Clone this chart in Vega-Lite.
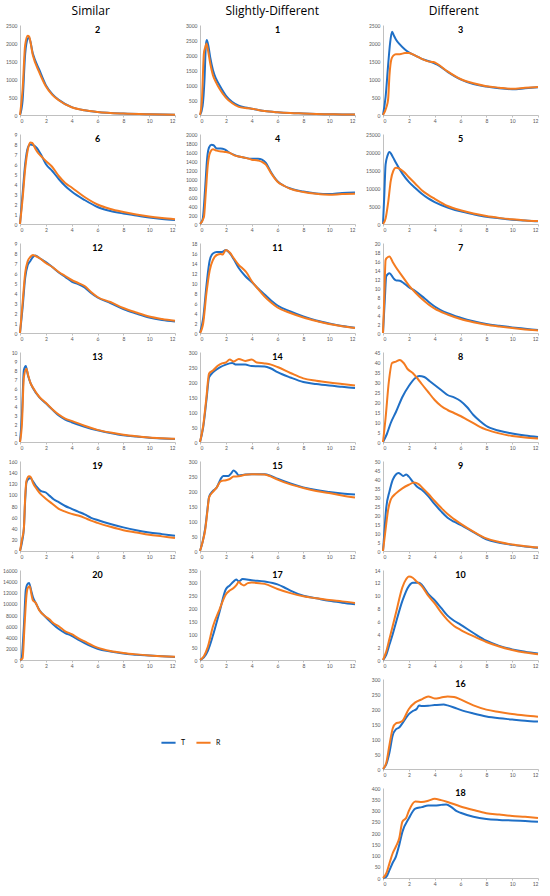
{
  "$schema": "https://vega.github.io/schema/vega-lite/v6.json",
  "padding": {"left": 2, "top": 5, "right": 4, "bottom": 2},
  "datasets": {
    "p2": [
      {"s":"T","t":0,"c":0},{"s":"T","t":0.2,"c":400},{"s":"T","t":0.4,"c":1700},{"s":"T","t":0.6,"c":2120},{"s":"T","t":0.7,"c":2150},{"s":"T","t":1,"c":1700},{"s":"T","t":1.5,"c":1250},{"s":"T","t":2,"c":830},{"s":"T","t":2.5,"c":580},{"s":"T","t":3,"c":420},{"s":"T","t":4,"c":220},{"s":"T","t":5,"c":130},{"s":"T","t":6,"c":85},{"s":"T","t":8,"c":40},{"s":"T","t":10,"c":20},{"s":"T","t":12,"c":10},
      {"s":"R","t":0,"c":0},{"s":"R","t":0.2,"c":700},{"s":"R","t":0.4,"c":1950},{"s":"R","t":0.6,"c":2200},{"s":"R","t":0.7,"c":2180},{"s":"R","t":1,"c":1650},{"s":"R","t":1.5,"c":1180},{"s":"R","t":2,"c":800},{"s":"R","t":2.5,"c":560},{"s":"R","t":3,"c":410},{"s":"R","t":4,"c":215},{"s":"R","t":5,"c":130},{"s":"R","t":6,"c":85},{"s":"R","t":8,"c":40},{"s":"R","t":10,"c":20},{"s":"R","t":12,"c":10}
    ],
    "p6": [
      {"s":"T","t":0,"c":0},{"s":"T","t":0.2,"c":3},{"s":"T","t":0.4,"c":6},{"s":"T","t":0.6,"c":7.6},{"s":"T","t":0.8,"c":7.95},{"s":"T","t":1,"c":7.9},{"s":"T","t":1.3,"c":7.6},{"s":"T","t":1.6,"c":7.0},{"s":"T","t":2,"c":6.0},{"s":"T","t":2.5,"c":5.3},{"s":"T","t":3,"c":4.5},{"s":"T","t":3.5,"c":3.8},{"s":"T","t":4,"c":3.25},{"s":"T","t":5,"c":2.4},{"s":"T","t":6,"c":1.7},{"s":"T","t":7,"c":1.3},{"s":"T","t":8,"c":1.05},{"s":"T","t":9,"c":0.85},{"s":"T","t":10,"c":0.65},{"s":"T","t":11,"c":0.5},{"s":"T","t":12,"c":0.4},
      {"s":"R","t":0,"c":0},{"s":"R","t":0.2,"c":2.5},{"s":"R","t":0.4,"c":5.5},{"s":"R","t":0.6,"c":7.4},{"s":"R","t":0.8,"c":8.15},{"s":"R","t":0.95,"c":8.1},{"s":"R","t":1.2,"c":7.5},{"s":"R","t":1.4,"c":7.1},{"s":"R","t":1.7,"c":6.7},{"s":"R","t":2,"c":6.3},{"s":"R","t":2.5,"c":5.7},{"s":"R","t":3,"c":4.8},{"s":"R","t":3.5,"c":4.1},{"s":"R","t":4,"c":3.65},{"s":"R","t":5,"c":2.7},{"s":"R","t":6,"c":1.95},{"s":"R","t":7,"c":1.5},{"s":"R","t":8,"c":1.2},{"s":"R","t":9,"c":0.95},{"s":"R","t":10,"c":0.75},{"s":"R","t":11,"c":0.6},{"s":"R","t":12,"c":0.48}
    ],
    "p12": [
      {"s":"T","t":0,"c":0},{"s":"T","t":0.2,"c":2.5},{"s":"T","t":0.4,"c":5.5},{"s":"T","t":0.6,"c":6.8},{"s":"T","t":0.8,"c":7.2},{"s":"T","t":1,"c":7.6},{"s":"T","t":1.2,"c":7.75},{"s":"T","t":1.5,"c":7.5},{"s":"T","t":2,"c":7.1},{"s":"T","t":2.5,"c":6.6},{"s":"T","t":3,"c":6.05},{"s":"T","t":3.5,"c":5.6},{"s":"T","t":4,"c":5.15},{"s":"T","t":4.5,"c":4.9},{"s":"T","t":5,"c":4.55},{"s":"T","t":5.5,"c":4.0},{"s":"T","t":6,"c":3.55},{"s":"T","t":7,"c":3.0},{"s":"T","t":8,"c":2.4},{"s":"T","t":9,"c":1.95},{"s":"T","t":10,"c":1.55},{"s":"T","t":11,"c":1.3},{"s":"T","t":12,"c":1.15},
      {"s":"R","t":0,"c":0},{"s":"R","t":0.2,"c":3},{"s":"R","t":0.4,"c":6},{"s":"R","t":0.6,"c":7.2},{"s":"R","t":0.8,"c":7.6},{"s":"R","t":1,"c":7.8},{"s":"R","t":1.2,"c":7.7},{"s":"R","t":1.5,"c":7.5},{"s":"R","t":2,"c":7.0},{"s":"R","t":2.5,"c":6.6},{"s":"R","t":3,"c":6.1},{"s":"R","t":3.5,"c":5.7},{"s":"R","t":4,"c":5.3},{"s":"R","t":4.5,"c":5.0},{"s":"R","t":5,"c":4.7},{"s":"R","t":5.5,"c":4.1},{"s":"R","t":6,"c":3.6},{"s":"R","t":7,"c":3.1},{"s":"R","t":8,"c":2.5},{"s":"R","t":9,"c":2.05},{"s":"R","t":10,"c":1.65},{"s":"R","t":11,"c":1.4},{"s":"R","t":12,"c":1.22}
    ],
    "p13": [
      {"s":"T","t":0,"c":0},{"s":"T","t":0.15,"c":3},{"s":"T","t":0.3,"c":8.0},{"s":"T","t":0.45,"c":8.45},{"s":"T","t":0.6,"c":7.5},{"s":"T","t":0.8,"c":6.6},{"s":"T","t":1,"c":6.0},{"s":"T","t":1.5,"c":4.95},{"s":"T","t":2,"c":4.3},{"s":"T","t":2.5,"c":3.6},{"s":"T","t":3,"c":2.95},{"s":"T","t":3.5,"c":2.5},{"s":"T","t":4,"c":2.2},{"s":"T","t":5,"c":1.7},{"s":"T","t":6,"c":1.3},{"s":"T","t":7,"c":1.0},{"s":"T","t":8,"c":0.75},{"s":"T","t":9,"c":0.6},{"s":"T","t":10,"c":0.47},{"s":"T","t":11,"c":0.4},{"s":"T","t":12,"c":0.33},
      {"s":"R","t":0,"c":0},{"s":"R","t":0.15,"c":2},{"s":"R","t":0.3,"c":7.2},{"s":"R","t":0.5,"c":8.15},{"s":"R","t":0.65,"c":7.3},{"s":"R","t":0.8,"c":6.6},{"s":"R","t":1,"c":6.05},{"s":"R","t":1.5,"c":5.0},{"s":"R","t":2,"c":4.35},{"s":"R","t":2.5,"c":3.65},{"s":"R","t":3,"c":3.05},{"s":"R","t":3.5,"c":2.6},{"s":"R","t":4,"c":2.35},{"s":"R","t":5,"c":1.8},{"s":"R","t":6,"c":1.35},{"s":"R","t":7,"c":1.05},{"s":"R","t":8,"c":0.8},{"s":"R","t":9,"c":0.63},{"s":"R","t":10,"c":0.5},{"s":"R","t":11,"c":0.42},{"s":"R","t":12,"c":0.36}
    ],
    "p19": [
      {"s":"T","t":0,"c":0},{"s":"T","t":0.15,"c":15},{"s":"T","t":0.3,"c":40},{"s":"T","t":0.4,"c":90},{"s":"T","t":0.5,"c":122},{"s":"T","t":0.65,"c":128},{"s":"T","t":0.8,"c":130},{"s":"T","t":1,"c":124},{"s":"T","t":1.3,"c":114},{"s":"T","t":1.6,"c":107},{"s":"T","t":2,"c":104},{"s":"T","t":2.3,"c":98},{"s":"T","t":2.6,"c":92},{"s":"T","t":3,"c":87},{"s":"T","t":3.5,"c":80},{"s":"T","t":4,"c":75},{"s":"T","t":4.5,"c":70},{"s":"T","t":5,"c":65},{"s":"T","t":5.5,"c":59},{"s":"T","t":6,"c":55},{"s":"T","t":7,"c":48},{"s":"T","t":8,"c":42},{"s":"T","t":9,"c":37},{"s":"T","t":10,"c":33},{"s":"T","t":11,"c":30},{"s":"T","t":12,"c":27},
      {"s":"R","t":0,"c":0},{"s":"R","t":0.15,"c":20},{"s":"R","t":0.3,"c":40},{"s":"R","t":0.4,"c":95},{"s":"R","t":0.5,"c":125},{"s":"R","t":0.7,"c":133},{"s":"R","t":0.85,"c":131},{"s":"R","t":1,"c":121},{"s":"R","t":1.3,"c":110},{"s":"R","t":1.6,"c":101},{"s":"R","t":2,"c":93},{"s":"R","t":2.5,"c":84},{"s":"R","t":3,"c":75},{"s":"R","t":3.5,"c":70},{"s":"R","t":4,"c":66},{"s":"R","t":4.5,"c":63},{"s":"R","t":5,"c":59},{"s":"R","t":5.5,"c":54},{"s":"R","t":6,"c":50},{"s":"R","t":7,"c":43},{"s":"R","t":8,"c":37},{"s":"R","t":9,"c":33},{"s":"R","t":10,"c":29},{"s":"R","t":11,"c":26},{"s":"R","t":12,"c":23}
    ],
    "p20": [
      {"s":"T","t":0,"c":0},{"s":"T","t":0.1,"c":100},{"s":"T","t":0.3,"c":6000},{"s":"T","t":0.45,"c":12500},{"s":"T","t":0.55,"c":13400},{"s":"T","t":0.7,"c":13700},{"s":"T","t":0.85,"c":12500},{"s":"T","t":1,"c":11200},{"s":"T","t":1.25,"c":10000},{"s":"T","t":1.5,"c":8900},{"s":"T","t":2,"c":7600},{"s":"T","t":2.5,"c":6500},{"s":"T","t":3,"c":5500},{"s":"T","t":3.5,"c":4800},{"s":"T","t":4,"c":4300},{"s":"T","t":4.5,"c":3600},{"s":"T","t":5,"c":3000},{"s":"T","t":6,"c":2000},{"s":"T","t":7,"c":1500},{"s":"T","t":8,"c":1150},{"s":"T","t":9,"c":950},{"s":"T","t":10,"c":780},{"s":"T","t":11,"c":650},{"s":"T","t":12,"c":550},
      {"s":"R","t":0,"c":0},{"s":"R","t":0.1,"c":100},{"s":"R","t":0.2,"c":300},{"s":"R","t":0.35,"c":6000},{"s":"R","t":0.5,"c":11500},{"s":"R","t":0.6,"c":12800},{"s":"R","t":0.75,"c":13100},{"s":"R","t":0.9,"c":11500},{"s":"R","t":1,"c":10600},{"s":"R","t":1.2,"c":10200},{"s":"R","t":1.5,"c":8800},{"s":"R","t":2,"c":7700},{"s":"R","t":2.3,"c":7200},{"s":"R","t":2.5,"c":6700},{"s":"R","t":3,"c":6000},{"s":"R","t":3.5,"c":5100},{"s":"R","t":4,"c":4600},{"s":"R","t":4.5,"c":3900},{"s":"R","t":5,"c":3300},{"s":"R","t":6,"c":2200},{"s":"R","t":7,"c":1600},{"s":"R","t":8,"c":1250},{"s":"R","t":9,"c":1000},{"s":"R","t":10,"c":800},{"s":"R","t":11,"c":650},{"s":"R","t":12,"c":570}
    ],
    "p1": [
      {"s":"T","t":0,"c":0},{"s":"T","t":0.2,"c":300},{"s":"T","t":0.35,"c":1200},{"s":"T","t":0.45,"c":2300},{"s":"T","t":0.52,"c":2500},{"s":"T","t":0.65,"c":2300},{"s":"T","t":0.8,"c":1900},{"s":"T","t":1,"c":1500},{"s":"T","t":1.25,"c":1200},{"s":"T","t":1.5,"c":1000},{"s":"T","t":2,"c":650},{"s":"T","t":2.5,"c":430},{"s":"T","t":3,"c":310},{"s":"T","t":3.5,"c":250},{"s":"T","t":4,"c":210},{"s":"T","t":5,"c":130},{"s":"T","t":6,"c":90},{"s":"T","t":7,"c":65},{"s":"T","t":8,"c":50},{"s":"T","t":9,"c":35},{"s":"T","t":10,"c":25},{"s":"T","t":11,"c":18},{"s":"T","t":12,"c":15},
      {"s":"R","t":0,"c":0},{"s":"R","t":0.15,"c":500},{"s":"R","t":0.3,"c":2050},{"s":"R","t":0.4,"c":2250},{"s":"R","t":0.5,"c":2380},{"s":"R","t":0.6,"c":2200},{"s":"R","t":0.8,"c":1700},{"s":"R","t":1,"c":1330},{"s":"R","t":1.25,"c":1080},{"s":"R","t":1.5,"c":880},{"s":"R","t":2,"c":580},{"s":"R","t":2.5,"c":390},{"s":"R","t":3,"c":270},{"s":"R","t":3.5,"c":235},{"s":"R","t":4,"c":210},{"s":"R","t":5,"c":130},{"s":"R","t":6,"c":90},{"s":"R","t":7,"c":65},{"s":"R","t":8,"c":50},{"s":"R","t":9,"c":35},{"s":"R","t":10,"c":25},{"s":"R","t":11,"c":18},{"s":"R","t":12,"c":15}
    ],
    "p4": [
      {"s":"T","t":0,"c":0},{"s":"T","t":0.2,"c":100},{"s":"T","t":0.4,"c":800},{"s":"T","t":0.55,"c":1450},{"s":"T","t":0.7,"c":1700},{"s":"T","t":0.9,"c":1760},{"s":"T","t":1.05,"c":1750},{"s":"T","t":1.3,"c":1680},{"s":"T","t":1.6,"c":1680},{"s":"T","t":1.9,"c":1660},{"s":"T","t":2.2,"c":1600},{"s":"T","t":2.6,"c":1540},{"s":"T","t":3,"c":1500},{"s":"T","t":3.5,"c":1470},{"s":"T","t":4,"c":1450},{"s":"T","t":4.5,"c":1450},{"s":"T","t":4.8,"c":1430},{"s":"T","t":5.1,"c":1360},{"s":"T","t":5.5,"c":1150},{"s":"T","t":6,"c":950},{"s":"T","t":6.5,"c":850},{"s":"T","t":7,"c":790},{"s":"T","t":8,"c":720},{"s":"T","t":9,"c":680},{"s":"T","t":10,"c":665},{"s":"T","t":11,"c":690},{"s":"T","t":12,"c":700},
      {"s":"R","t":0,"c":0},{"s":"R","t":0.3,"c":150},{"s":"R","t":0.45,"c":700},{"s":"R","t":0.6,"c":1300},{"s":"R","t":0.8,"c":1600},{"s":"R","t":1,"c":1660},{"s":"R","t":1.3,"c":1630},{"s":"R","t":1.7,"c":1610},{"s":"R","t":2,"c":1600},{"s":"R","t":2.3,"c":1580},{"s":"R","t":2.7,"c":1520},{"s":"R","t":3,"c":1500},{"s":"R","t":3.5,"c":1470},{"s":"R","t":4,"c":1430},{"s":"R","t":4.5,"c":1410},{"s":"R","t":4.8,"c":1380},{"s":"R","t":5.1,"c":1320},{"s":"R","t":5.5,"c":1130},{"s":"R","t":6,"c":940},{"s":"R","t":6.5,"c":850},{"s":"R","t":7,"c":780},{"s":"R","t":8,"c":710},{"s":"R","t":9,"c":670},{"s":"R","t":10,"c":650},{"s":"R","t":11,"c":665},{"s":"R","t":12,"c":670}
    ],
    "p11": [
      {"s":"T","t":0,"c":0},{"s":"T","t":0.25,"c":3},{"s":"T","t":0.5,"c":9.5},{"s":"T","t":0.75,"c":14.5},{"s":"T","t":1,"c":15.9},{"s":"T","t":1.3,"c":16.2},{"s":"T","t":1.7,"c":16.2},{"s":"T","t":2,"c":16.6},{"s":"T","t":2.3,"c":16.0},{"s":"T","t":2.6,"c":14.8},{"s":"T","t":3,"c":13.0},{"s":"T","t":3.5,"c":11.4},{"s":"T","t":4,"c":10.2},{"s":"T","t":4.5,"c":8.9},{"s":"T","t":5,"c":7.7},{"s":"T","t":5.5,"c":6.5},{"s":"T","t":6,"c":5.5},{"s":"T","t":7,"c":4.3},{"s":"T","t":8,"c":3.3},{"s":"T","t":9,"c":2.5},{"s":"T","t":10,"c":1.9},{"s":"T","t":11,"c":1.4},{"s":"T","t":12,"c":1.05},
      {"s":"R","t":0,"c":0},{"s":"R","t":0.25,"c":2},{"s":"R","t":0.5,"c":8},{"s":"R","t":0.75,"c":12.5},{"s":"R","t":1,"c":14.6},{"s":"R","t":1.3,"c":15.6},{"s":"R","t":1.6,"c":15.8},{"s":"R","t":1.75,"c":15.7},{"s":"R","t":2,"c":16.6},{"s":"R","t":2.3,"c":16.1},{"s":"R","t":2.6,"c":15.0},{"s":"R","t":3,"c":13.6},{"s":"R","t":3.3,"c":12.9},{"s":"R","t":3.6,"c":12.1},{"s":"R","t":4,"c":10.4},{"s":"R","t":4.5,"c":8.8},{"s":"R","t":5,"c":7.3},{"s":"R","t":5.5,"c":6.1},{"s":"R","t":6,"c":5.1},{"s":"R","t":7,"c":4.0},{"s":"R","t":8,"c":3.1},{"s":"R","t":9,"c":2.4},{"s":"R","t":10,"c":1.8},{"s":"R","t":11,"c":1.35},{"s":"R","t":12,"c":1.0}
    ],
    "p14": [
      {"s":"T","t":0,"c":0},{"s":"T","t":0.25,"c":50},{"s":"T","t":0.5,"c":140},{"s":"T","t":0.7,"c":215},{"s":"T","t":1,"c":232},{"s":"T","t":1.5,"c":248},{"s":"T","t":2,"c":258},{"s":"T","t":2.5,"c":263},{"s":"T","t":2.8,"c":258},{"s":"T","t":3.5,"c":258},{"s":"T","t":4,"c":253},{"s":"T","t":5,"c":252},{"s":"T","t":5.5,"c":245},{"s":"T","t":6,"c":233},{"s":"T","t":7,"c":215},{"s":"T","t":8,"c":200},{"s":"T","t":9,"c":193},{"s":"T","t":10,"c":188},{"s":"T","t":11,"c":184},{"s":"T","t":12,"c":180},
      {"s":"R","t":0,"c":0},{"s":"R","t":0.25,"c":55},{"s":"R","t":0.5,"c":150},{"s":"R","t":0.7,"c":228},{"s":"R","t":1,"c":238},{"s":"R","t":1.4,"c":255},{"s":"R","t":1.7,"c":262},{"s":"R","t":2,"c":265},{"s":"R","t":2.3,"c":275},{"s":"R","t":2.6,"c":268},{"s":"R","t":3,"c":277},{"s":"R","t":3.5,"c":270},{"s":"R","t":4,"c":275},{"s":"R","t":4.4,"c":265},{"s":"R","t":5,"c":262},{"s":"R","t":5.5,"c":258},{"s":"R","t":6,"c":250},{"s":"R","t":7,"c":230},{"s":"R","t":8,"c":212},{"s":"R","t":9,"c":204},{"s":"R","t":10,"c":198},{"s":"R","t":11,"c":193},{"s":"R","t":12,"c":188}
    ],
    "p15": [
      {"s":"T","t":0,"c":0},{"s":"T","t":0.2,"c":30},{"s":"T","t":0.4,"c":75},{"s":"T","t":0.58,"c":140},{"s":"T","t":0.7,"c":180},{"s":"T","t":1,"c":200},{"s":"T","t":1.3,"c":212},{"s":"T","t":1.6,"c":240},{"s":"T","t":1.8,"c":250},{"s":"T","t":2.2,"c":250},{"s":"T","t":2.4,"c":258},{"s":"T","t":2.6,"c":268},{"s":"T","t":2.8,"c":262},{"s":"T","t":3,"c":252},{"s":"T","t":3.5,"c":255},{"s":"T","t":4,"c":256},{"s":"T","t":5,"c":256},{"s":"T","t":5.5,"c":250},{"s":"T","t":6,"c":241},{"s":"T","t":7,"c":225},{"s":"T","t":8,"c":212},{"s":"T","t":9,"c":203},{"s":"T","t":10,"c":197},{"s":"T","t":11,"c":192},{"s":"T","t":12,"c":188},
      {"s":"R","t":0,"c":0},{"s":"R","t":0.2,"c":30},{"s":"R","t":0.4,"c":70},{"s":"R","t":0.58,"c":135},{"s":"R","t":0.7,"c":178},{"s":"R","t":1,"c":197},{"s":"R","t":1.3,"c":212},{"s":"R","t":1.6,"c":232},{"s":"R","t":2,"c":236},{"s":"R","t":2.3,"c":240},{"s":"R","t":2.6,"c":248},{"s":"R","t":3,"c":249},{"s":"R","t":3.5,"c":254},{"s":"R","t":4,"c":256},{"s":"R","t":5,"c":255},{"s":"R","t":5.5,"c":248},{"s":"R","t":6,"c":238},{"s":"R","t":7,"c":222},{"s":"R","t":8,"c":210},{"s":"R","t":9,"c":200},{"s":"R","t":10,"c":193},{"s":"R","t":11,"c":185},{"s":"R","t":12,"c":178}
    ],
    "p17": [
      {"s":"T","t":0,"c":0},{"s":"T","t":0.3,"c":10},{"s":"T","t":0.6,"c":35},{"s":"T","t":1,"c":95},{"s":"T","t":1.5,"c":185},{"s":"T","t":2,"c":275},{"s":"T","t":2.3,"c":290},{"s":"T","t":2.6,"c":305},{"s":"T","t":2.8,"c":313},{"s":"T","t":3,"c":306},{"s":"T","t":3.3,"c":315},{"s":"T","t":4,"c":310},{"s":"T","t":5,"c":305},{"s":"T","t":6,"c":294},{"s":"T","t":6.5,"c":283},{"s":"T","t":7,"c":270},{"s":"T","t":8,"c":250},{"s":"T","t":9,"c":240},{"s":"T","t":10,"c":230},{"s":"T","t":11,"c":223},{"s":"T","t":12,"c":217},
      {"s":"R","t":0,"c":0},{"s":"R","t":0.3,"c":15},{"s":"R","t":0.6,"c":50},{"s":"R","t":1,"c":130},{"s":"R","t":1.5,"c":195},{"s":"R","t":2,"c":255},{"s":"R","t":2.3,"c":270},{"s":"R","t":2.6,"c":280},{"s":"R","t":2.8,"c":290},{"s":"R","t":3,"c":303},{"s":"R","t":3.2,"c":295},{"s":"R","t":3.4,"c":290},{"s":"R","t":3.7,"c":299},{"s":"R","t":4,"c":301},{"s":"R","t":5,"c":296},{"s":"R","t":6,"c":276},{"s":"R","t":7,"c":260},{"s":"R","t":8,"c":248},{"s":"R","t":9,"c":240},{"s":"R","t":10,"c":233},{"s":"R","t":11,"c":228},{"s":"R","t":12,"c":222}
    ],
    "p3": [
      {"s":"T","t":0,"c":0},{"s":"T","t":0.2,"c":500},{"s":"T","t":0.4,"c":1400},{"s":"T","t":0.55,"c":2000},{"s":"T","t":0.7,"c":2310},{"s":"T","t":0.85,"c":2200},{"s":"T","t":1,"c":2100},{"s":"T","t":1.3,"c":1960},{"s":"T","t":1.7,"c":1820},{"s":"T","t":2,"c":1740},{"s":"T","t":2.5,"c":1650},{"s":"T","t":3,"c":1560},{"s":"T","t":3.5,"c":1500},{"s":"T","t":3.9,"c":1450},{"s":"T","t":4.2,"c":1400},{"s":"T","t":5,"c":1200},{"s":"T","t":6,"c":990},{"s":"T","t":7,"c":860},{"s":"T","t":8,"c":790},{"s":"T","t":9,"c":740},{"s":"T","t":10,"c":715},{"s":"T","t":11,"c":740},{"s":"T","t":12,"c":770},
      {"s":"R","t":0,"c":0},{"s":"R","t":0.25,"c":200},{"s":"R","t":0.4,"c":450},{"s":"R","t":0.5,"c":1100},{"s":"R","t":0.65,"c":1550},{"s":"R","t":0.8,"c":1650},{"s":"R","t":1,"c":1690},{"s":"R","t":1.3,"c":1690},{"s":"R","t":1.7,"c":1720},{"s":"R","t":2,"c":1720},{"s":"R","t":2.5,"c":1650},{"s":"R","t":3,"c":1560},{"s":"R","t":3.5,"c":1490},{"s":"R","t":3.9,"c":1470},{"s":"R","t":4.2,"c":1420},{"s":"R","t":5,"c":1210},{"s":"R","t":6,"c":1000},{"s":"R","t":7,"c":880},{"s":"R","t":8,"c":800},{"s":"R","t":9,"c":760},{"s":"R","t":10,"c":730},{"s":"R","t":11,"c":755},{"s":"R","t":12,"c":775}
    ],
    "p5": [
      {"s":"T","t":0,"c":0},{"s":"T","t":0.1,"c":8000},{"s":"T","t":0.2,"c":16500},{"s":"T","t":0.35,"c":19000},{"s":"T","t":0.5,"c":20000},{"s":"T","t":0.75,"c":18700},{"s":"T","t":1,"c":17000},{"s":"T","t":1.5,"c":14000},{"s":"T","t":2,"c":11700},{"s":"T","t":2.5,"c":10000},{"s":"T","t":3,"c":8400},{"s":"T","t":3.5,"c":7100},{"s":"T","t":4,"c":6100},{"s":"T","t":5,"c":4600},{"s":"T","t":6,"c":3500},{"s":"T","t":7,"c":2700},{"s":"T","t":8,"c":2000},{"s":"T","t":9,"c":1600},{"s":"T","t":10,"c":1200},{"s":"T","t":11,"c":950},{"s":"T","t":12,"c":750},
      {"s":"R","t":0,"c":0},{"s":"R","t":0.2,"c":1500},{"s":"R","t":0.4,"c":6000},{"s":"R","t":0.6,"c":12000},{"s":"R","t":0.8,"c":14800},{"s":"R","t":1,"c":15600},{"s":"R","t":1.3,"c":15300},{"s":"R","t":1.6,"c":14500},{"s":"R","t":2,"c":13000},{"s":"R","t":2.5,"c":11200},{"s":"R","t":3,"c":9400},{"s":"R","t":3.5,"c":8100},{"s":"R","t":4,"c":7000},{"s":"R","t":5,"c":5000},{"s":"R","t":6,"c":3800},{"s":"R","t":7,"c":2900},{"s":"R","t":8,"c":2200},{"s":"R","t":9,"c":1700},{"s":"R","t":10,"c":1300},{"s":"R","t":11,"c":1000},{"s":"R","t":12,"c":800}
    ],
    "p7": [
      {"s":"T","t":0,"c":0},{"s":"T","t":0.15,"c":8},{"s":"T","t":0.25,"c":12.6},{"s":"T","t":0.5,"c":13.3},{"s":"T","t":0.8,"c":12.2},{"s":"T","t":1,"c":11.7},{"s":"T","t":1.3,"c":11.6},{"s":"T","t":1.6,"c":11.1},{"s":"T","t":2,"c":10.2},{"s":"T","t":2.5,"c":9.3},{"s":"T","t":3,"c":8.2},{"s":"T","t":3.5,"c":7.0},{"s":"T","t":4,"c":5.9},{"s":"T","t":5,"c":4.4},{"s":"T","t":6,"c":3.4},{"s":"T","t":7,"c":2.6},{"s":"T","t":8,"c":2.0},{"s":"T","t":9,"c":1.6},{"s":"T","t":10,"c":1.25},{"s":"T","t":11,"c":0.95},{"s":"T","t":12,"c":0.65},
      {"s":"R","t":0,"c":0},{"s":"R","t":0.1,"c":8},{"s":"R","t":0.2,"c":16.2},{"s":"R","t":0.3,"c":16.7},{"s":"R","t":0.5,"c":17.0},{"s":"R","t":0.75,"c":15.8},{"s":"R","t":1,"c":14.6},{"s":"R","t":1.5,"c":12.6},{"s":"R","t":2,"c":10.6},{"s":"R","t":2.5,"c":9.0},{"s":"R","t":3,"c":7.6},{"s":"R","t":3.5,"c":6.4},{"s":"R","t":4,"c":5.4},{"s":"R","t":5,"c":4.1},{"s":"R","t":6,"c":3.1},{"s":"R","t":7,"c":2.4},{"s":"R","t":8,"c":1.85},{"s":"R","t":9,"c":1.45},{"s":"R","t":10,"c":1.1},{"s":"R","t":11,"c":0.8},{"s":"R","t":12,"c":0.55}
    ],
    "p8": [
      {"s":"T","t":0,"c":0},{"s":"T","t":0.3,"c":4},{"s":"T","t":0.6,"c":9.5},{"s":"T","t":1,"c":15},{"s":"T","t":1.5,"c":22.5},{"s":"T","t":2,"c":28},{"s":"T","t":2.5,"c":32},{"s":"T","t":2.8,"c":33},{"s":"T","t":3.2,"c":32.5},{"s":"T","t":3.6,"c":30.5},{"s":"T","t":4,"c":28.5},{"s":"T","t":4.5,"c":26},{"s":"T","t":5,"c":23.5},{"s":"T","t":5.5,"c":22.3},{"s":"T","t":6,"c":20.5},{"s":"T","t":6.5,"c":17.5},{"s":"T","t":7,"c":13.5},{"s":"T","t":7.5,"c":10.5},{"s":"T","t":8,"c":8},{"s":"T","t":9,"c":5.6},{"s":"T","t":10,"c":4.3},{"s":"T","t":11,"c":3.3},{"s":"T","t":12,"c":2.5},
      {"s":"R","t":0,"c":0},{"s":"R","t":0.2,"c":12},{"s":"R","t":0.45,"c":30},{"s":"R","t":0.7,"c":39.5},{"s":"R","t":1,"c":40.2},{"s":"R","t":1.3,"c":41},{"s":"R","t":1.6,"c":39.5},{"s":"R","t":1.9,"c":36.5},{"s":"R","t":2.3,"c":34.5},{"s":"R","t":2.7,"c":31.5},{"s":"R","t":3,"c":29},{"s":"R","t":3.5,"c":25},{"s":"R","t":4,"c":21},{"s":"R","t":4.5,"c":18},{"s":"R","t":5,"c":16},{"s":"R","t":5.5,"c":14.5},{"s":"R","t":6,"c":13},{"s":"R","t":6.5,"c":11.2},{"s":"R","t":7,"c":9.4},{"s":"R","t":7.5,"c":7.6},{"s":"R","t":8,"c":6.2},{"s":"R","t":9,"c":4.3},{"s":"R","t":10,"c":3.0},{"s":"R","t":11,"c":2.3},{"s":"R","t":12,"c":1.8}
    ],
    "p9": [
      {"s":"T","t":0,"c":0},{"s":"T","t":0.1,"c":10},{"s":"T","t":0.25,"c":24},{"s":"T","t":0.5,"c":33},{"s":"T","t":0.75,"c":39.5},{"s":"T","t":1,"c":42.5},{"s":"T","t":1.2,"c":43.3},{"s":"T","t":1.4,"c":42.5},{"s":"T","t":1.55,"c":41.7},{"s":"T","t":1.8,"c":42.5},{"s":"T","t":2,"c":41.3},{"s":"T","t":2.3,"c":38.5},{"s":"T","t":2.6,"c":36},{"s":"T","t":3,"c":34},{"s":"T","t":3.5,"c":30.5},{"s":"T","t":4,"c":26},{"s":"T","t":4.5,"c":22},{"s":"T","t":5,"c":18.5},{"s":"T","t":5.5,"c":16.3},{"s":"T","t":6,"c":14.5},{"s":"T","t":7,"c":10.5},{"s":"T","t":8,"c":6.5},{"s":"T","t":9,"c":4.6},{"s":"T","t":10,"c":3.4},{"s":"T","t":11,"c":2.5},{"s":"T","t":12,"c":1.8},
      {"s":"R","t":0,"c":0},{"s":"R","t":0.2,"c":12},{"s":"R","t":0.4,"c":23},{"s":"R","t":0.6,"c":28.5},{"s":"R","t":1,"c":32},{"s":"R","t":1.5,"c":34.8},{"s":"R","t":2,"c":36.8},{"s":"R","t":2.4,"c":38},{"s":"R","t":2.75,"c":37.2},{"s":"R","t":3,"c":35.5},{"s":"R","t":3.5,"c":31.8},{"s":"R","t":4,"c":27.8},{"s":"R","t":4.5,"c":24},{"s":"R","t":5,"c":20.5},{"s":"R","t":5.5,"c":17.7},{"s":"R","t":6,"c":15.2},{"s":"R","t":7,"c":10.8},{"s":"R","t":8,"c":7},{"s":"R","t":9,"c":5},{"s":"R","t":10,"c":3.6},{"s":"R","t":11,"c":2.7},{"s":"R","t":12,"c":2.0}
    ],
    "p10": [
      {"s":"T","t":0,"c":0},{"s":"T","t":0.25,"c":0.8},{"s":"T","t":0.5,"c":2.4},{"s":"T","t":0.75,"c":4.0},{"s":"T","t":1,"c":5.8},{"s":"T","t":1.5,"c":9.2},{"s":"T","t":2,"c":11.5},{"s":"T","t":2.3,"c":12.0},{"s":"T","t":2.8,"c":12.0},{"s":"T","t":3,"c":11.7},{"s":"T","t":3.5,"c":10.3},{"s":"T","t":4,"c":9.3},{"s":"T","t":4.5,"c":8.1},{"s":"T","t":5,"c":6.9},{"s":"T","t":5.5,"c":6.1},{"s":"T","t":6,"c":5.5},{"s":"T","t":7,"c":4.2},{"s":"T","t":8,"c":3.0},{"s":"T","t":9,"c":2.2},{"s":"T","t":10,"c":1.65},{"s":"T","t":11,"c":1.3},{"s":"T","t":12,"c":1.0},
      {"s":"R","t":0,"c":0},{"s":"R","t":0.25,"c":1.3},{"s":"R","t":0.5,"c":3.3},{"s":"R","t":0.75,"c":5.3},{"s":"R","t":1,"c":7.3},{"s":"R","t":1.5,"c":11.3},{"s":"R","t":1.8,"c":12.6},{"s":"R","t":2,"c":13.0},{"s":"R","t":2.3,"c":12.8},{"s":"R","t":2.6,"c":12.2},{"s":"R","t":3,"c":11.5},{"s":"R","t":3.5,"c":10.0},{"s":"R","t":4,"c":8.8},{"s":"R","t":4.5,"c":7.4},{"s":"R","t":5,"c":6.2},{"s":"R","t":5.5,"c":5.3},{"s":"R","t":6,"c":4.7},{"s":"R","t":7,"c":3.7},{"s":"R","t":8,"c":2.8},{"s":"R","t":9,"c":2.1},{"s":"R","t":10,"c":1.55},{"s":"R","t":11,"c":1.15},{"s":"R","t":12,"c":0.9}
    ],
    "p16": [
      {"s":"T","t":0,"c":0},{"s":"T","t":0.25,"c":15},{"s":"T","t":0.5,"c":55},{"s":"T","t":0.75,"c":112},{"s":"T","t":1,"c":132},{"s":"T","t":1.25,"c":138},{"s":"T","t":1.5,"c":152},{"s":"T","t":2,"c":183},{"s":"T","t":2.3,"c":193},{"s":"T","t":2.6,"c":200},{"s":"T","t":2.8,"c":212},{"s":"T","t":3,"c":210},{"s":"T","t":3.5,"c":211},{"s":"T","t":4,"c":213},{"s":"T","t":4.7,"c":215},{"s":"T","t":5,"c":212},{"s":"T","t":5.5,"c":205},{"s":"T","t":6,"c":197},{"s":"T","t":7,"c":185},{"s":"T","t":8,"c":175},{"s":"T","t":9,"c":169},{"s":"T","t":10,"c":165},{"s":"T","t":11,"c":161},{"s":"T","t":12,"c":158},
      {"s":"R","t":0,"c":0},{"s":"R","t":0.25,"c":20},{"s":"R","t":0.5,"c":80},{"s":"R","t":0.75,"c":135},{"s":"R","t":1,"c":152},{"s":"R","t":1.25,"c":155},{"s":"R","t":1.5,"c":160},{"s":"R","t":2,"c":200},{"s":"R","t":2.5,"c":222},{"s":"R","t":3,"c":232},{"s":"R","t":3.5,"c":242},{"s":"R","t":4,"c":235},{"s":"R","t":4.5,"c":238},{"s":"R","t":5,"c":242},{"s":"R","t":5.5,"c":240},{"s":"R","t":6,"c":232},{"s":"R","t":7,"c":212},{"s":"R","t":8,"c":198},{"s":"R","t":9,"c":190},{"s":"R","t":10,"c":183},{"s":"R","t":11,"c":178},{"s":"R","t":12,"c":174}
    ],
    "p18": [
      {"s":"T","t":0,"c":0},{"s":"T","t":0.25,"c":5},{"s":"T","t":0.5,"c":35},{"s":"T","t":0.75,"c":68},{"s":"T","t":1,"c":95},{"s":"T","t":1.25,"c":145},{"s":"T","t":1.5,"c":205},{"s":"T","t":2,"c":265},{"s":"T","t":2.5,"c":308},{"s":"T","t":3,"c":315},{"s":"T","t":3.5,"c":322},{"s":"T","t":4,"c":322},{"s":"T","t":4.5,"c":325},{"s":"T","t":4.9,"c":327},{"s":"T","t":5.3,"c":315},{"s":"T","t":5.7,"c":297},{"s":"T","t":6,"c":290},{"s":"T","t":7,"c":272},{"s":"T","t":8,"c":262},{"s":"T","t":9,"c":258},{"s":"T","t":10,"c":256},{"s":"T","t":11,"c":253},{"s":"T","t":12,"c":250},
      {"s":"R","t":0,"c":0},{"s":"R","t":0.25,"c":20},{"s":"R","t":0.5,"c":65},{"s":"R","t":0.75,"c":110},{"s":"R","t":1,"c":140},{"s":"R","t":1.25,"c":175},{"s":"R","t":1.5,"c":250},{"s":"R","t":1.8,"c":268},{"s":"R","t":2,"c":298},{"s":"R","t":2.5,"c":340},{"s":"R","t":3,"c":338},{"s":"R","t":3.5,"c":343},{"s":"R","t":4,"c":352},{"s":"R","t":4.5,"c":346},{"s":"R","t":5,"c":338},{"s":"R","t":6,"c":318},{"s":"R","t":7,"c":302},{"s":"R","t":8,"c":288},{"s":"R","t":9,"c":282},{"s":"R","t":10,"c":276},{"s":"R","t":11,"c":272},{"s":"R","t":12,"c":267}
    ]
  },
  "hconcat": [
    {
      "title": {"text": "Similar", "style": "coltitle", "anchor": "middle", "offset": 5},
      "spacing": 9,
      "vconcat": [
        {"title": "2", "data": {"name": "p2"}, "layer": [{"transform": [{"filter": "datum.s == 'T'"}], "mark": "line"}, {"transform": [{"filter": "datum.s == 'R'"}], "mark": "line"}],
         "encoding": {"x": {"field": "t", "type": "quantitative", "scale": {"domain": [0, 12]}, "axis": {"title": null, "values": [0, 2, 4, 6, 8, 10, 12]}},
                      "y": {"field": "c", "type": "quantitative", "scale": {"domain": [0, 2500]}, "axis": {"title": null, "values": [0, 500, 1000, 1500, 2000, 2500]}},
                      "color": {"field": "s", "type": "nominal", "scale": {"domain": ["T", "R"], "range": ["#1f6fc6", "#f47b20"]}, "legend": {"title": null}}}},
        {"title": "6", "data": {"name": "p6"}, "layer": [{"transform": [{"filter": "datum.s == 'T'"}], "mark": "line"}, {"transform": [{"filter": "datum.s == 'R'"}], "mark": "line"}],
         "encoding": {"x": {"field": "t", "type": "quantitative", "scale": {"domain": [0, 12]}, "axis": {"title": null, "values": [0, 2, 4, 6, 8, 10, 12]}},
                      "y": {"field": "c", "type": "quantitative", "scale": {"domain": [0, 9]}, "axis": {"title": null, "values": [0, 1, 2, 3, 4, 5, 6, 7, 8, 9]}},
                      "color": {"field": "s", "type": "nominal", "scale": {"domain": ["T", "R"], "range": ["#1f6fc6", "#f47b20"]}, "legend": {"title": null}}}},
        {"title": "12", "data": {"name": "p12"}, "layer": [{"transform": [{"filter": "datum.s == 'T'"}], "mark": "line"}, {"transform": [{"filter": "datum.s == 'R'"}], "mark": "line"}],
         "encoding": {"x": {"field": "t", "type": "quantitative", "scale": {"domain": [0, 12]}, "axis": {"title": null, "values": [0, 2, 4, 6, 8, 10, 12]}},
                      "y": {"field": "c", "type": "quantitative", "scale": {"domain": [0, 9]}, "axis": {"title": null, "values": [0, 1, 2, 3, 4, 5, 6, 7, 8, 9]}},
                      "color": {"field": "s", "type": "nominal", "scale": {"domain": ["T", "R"], "range": ["#1f6fc6", "#f47b20"]}, "legend": {"title": null}}}},
        {"title": "13", "data": {"name": "p13"}, "layer": [{"transform": [{"filter": "datum.s == 'T'"}], "mark": "line"}, {"transform": [{"filter": "datum.s == 'R'"}], "mark": "line"}],
         "encoding": {"x": {"field": "t", "type": "quantitative", "scale": {"domain": [0, 12]}, "axis": {"title": null, "values": [0, 2, 4, 6, 8, 10, 12]}},
                      "y": {"field": "c", "type": "quantitative", "scale": {"domain": [0, 10]}, "axis": {"title": null, "values": [0, 1, 2, 3, 4, 5, 6, 7, 8, 9, 10]}},
                      "color": {"field": "s", "type": "nominal", "scale": {"domain": ["T", "R"], "range": ["#1f6fc6", "#f47b20"]}, "legend": {"title": null}}}},
        {"title": "19", "data": {"name": "p19"}, "layer": [{"transform": [{"filter": "datum.s == 'T'"}], "mark": "line"}, {"transform": [{"filter": "datum.s == 'R'"}], "mark": "line"}],
         "encoding": {"x": {"field": "t", "type": "quantitative", "scale": {"domain": [0, 12]}, "axis": {"title": null, "values": [0, 2, 4, 6, 8, 10, 12]}},
                      "y": {"field": "c", "type": "quantitative", "scale": {"domain": [0, 160]}, "axis": {"title": null, "values": [0, 20, 40, 60, 80, 100, 120, 140, 160]}},
                      "color": {"field": "s", "type": "nominal", "scale": {"domain": ["T", "R"], "range": ["#1f6fc6", "#f47b20"]}, "legend": {"title": null}}}},
        {"title": "20", "data": {"name": "p20"}, "layer": [{"transform": [{"filter": "datum.s == 'T'"}], "mark": "line"}, {"transform": [{"filter": "datum.s == 'R'"}], "mark": "line"}],
         "encoding": {"x": {"field": "t", "type": "quantitative", "scale": {"domain": [0, 12]}, "axis": {"title": null, "values": [0, 2, 4, 6, 8, 10, 12]}},
                      "y": {"field": "c", "type": "quantitative", "scale": {"domain": [0, 16000]}, "axis": {"title": null, "values": [0, 2000, 4000, 6000, 8000, 10000, 12000, 14000, 16000]}},
                      "color": {"field": "s", "type": "nominal", "scale": {"domain": ["T", "R"], "range": ["#1f6fc6", "#f47b20"]}, "legend": {"title": null}}}}
      ]
    },
    {
      "title": {"text": "Slightly-Different", "style": "coltitle", "anchor": "middle", "offset": 5},
      "spacing": 9,
      "vconcat": [
        {"title": "1", "data": {"name": "p1"}, "layer": [{"transform": [{"filter": "datum.s == 'T'"}], "mark": "line"}, {"transform": [{"filter": "datum.s == 'R'"}], "mark": "line"}],
         "encoding": {"x": {"field": "t", "type": "quantitative", "scale": {"domain": [0, 12]}, "axis": {"title": null, "values": [0, 2, 4, 6, 8, 10, 12]}},
                      "y": {"field": "c", "type": "quantitative", "scale": {"domain": [0, 3000]}, "axis": {"title": null, "values": [0, 500, 1000, 1500, 2000, 2500, 3000]}},
                      "color": {"field": "s", "type": "nominal", "scale": {"domain": ["T", "R"], "range": ["#1f6fc6", "#f47b20"]}, "legend": {"title": null}}}},
        {"title": "4", "data": {"name": "p4"}, "layer": [{"transform": [{"filter": "datum.s == 'T'"}], "mark": "line"}, {"transform": [{"filter": "datum.s == 'R'"}], "mark": "line"}],
         "encoding": {"x": {"field": "t", "type": "quantitative", "scale": {"domain": [0, 12]}, "axis": {"title": null, "values": [0, 2, 4, 6, 8, 10, 12]}},
                      "y": {"field": "c", "type": "quantitative", "scale": {"domain": [0, 2000]}, "axis": {"title": null, "values": [0, 200, 400, 600, 800, 1000, 1200, 1400, 1600, 1800, 2000]}},
                      "color": {"field": "s", "type": "nominal", "scale": {"domain": ["T", "R"], "range": ["#1f6fc6", "#f47b20"]}, "legend": {"title": null}}}},
        {"title": "11", "data": {"name": "p11"}, "layer": [{"transform": [{"filter": "datum.s == 'T'"}], "mark": "line"}, {"transform": [{"filter": "datum.s == 'R'"}], "mark": "line"}],
         "encoding": {"x": {"field": "t", "type": "quantitative", "scale": {"domain": [0, 12]}, "axis": {"title": null, "values": [0, 2, 4, 6, 8, 10, 12]}},
                      "y": {"field": "c", "type": "quantitative", "scale": {"domain": [0, 18]}, "axis": {"title": null, "values": [0, 2, 4, 6, 8, 10, 12, 14, 16, 18]}},
                      "color": {"field": "s", "type": "nominal", "scale": {"domain": ["T", "R"], "range": ["#1f6fc6", "#f47b20"]}, "legend": {"title": null}}}},
        {"title": "14", "data": {"name": "p14"}, "layer": [{"transform": [{"filter": "datum.s == 'T'"}], "mark": "line"}, {"transform": [{"filter": "datum.s == 'R'"}], "mark": "line"}],
         "encoding": {"x": {"field": "t", "type": "quantitative", "scale": {"domain": [0, 12]}, "axis": {"title": null, "values": [0, 2, 4, 6, 8, 10, 12]}},
                      "y": {"field": "c", "type": "quantitative", "scale": {"domain": [0, 300]}, "axis": {"title": null, "values": [0, 50, 100, 150, 200, 250, 300]}},
                      "color": {"field": "s", "type": "nominal", "scale": {"domain": ["T", "R"], "range": ["#1f6fc6", "#f47b20"]}, "legend": {"title": null}}}},
        {"title": "15", "data": {"name": "p15"}, "layer": [{"transform": [{"filter": "datum.s == 'T'"}], "mark": "line"}, {"transform": [{"filter": "datum.s == 'R'"}], "mark": "line"}],
         "encoding": {"x": {"field": "t", "type": "quantitative", "scale": {"domain": [0, 12]}, "axis": {"title": null, "values": [0, 2, 4, 6, 8, 10, 12]}},
                      "y": {"field": "c", "type": "quantitative", "scale": {"domain": [0, 300]}, "axis": {"title": null, "values": [0, 50, 100, 150, 200, 250, 300]}},
                      "color": {"field": "s", "type": "nominal", "scale": {"domain": ["T", "R"], "range": ["#1f6fc6", "#f47b20"]}, "legend": {"title": null}}}},
        {"title": "17", "data": {"name": "p17"}, "layer": [{"transform": [{"filter": "datum.s == 'T'"}], "mark": "line"}, {"transform": [{"filter": "datum.s == 'R'"}], "mark": "line"}],
         "encoding": {"x": {"field": "t", "type": "quantitative", "scale": {"domain": [0, 12]}, "axis": {"title": null, "values": [0, 2, 4, 6, 8, 10, 12]}},
                      "y": {"field": "c", "type": "quantitative", "scale": {"domain": [0, 350]}, "axis": {"title": null, "values": [0, 50, 100, 150, 200, 250, 300, 350]}},
                      "color": {"field": "s", "type": "nominal", "scale": {"domain": ["T", "R"], "range": ["#1f6fc6", "#f47b20"]}, "legend": {"title": null}}}}
      ]
    },
    {
      "title": {"text": "Different", "style": "coltitle", "anchor": "middle", "offset": 5},
      "spacing": 9,
      "vconcat": [
        {"title": "3", "data": {"name": "p3"}, "layer": [{"transform": [{"filter": "datum.s == 'T'"}], "mark": "line"}, {"transform": [{"filter": "datum.s == 'R'"}], "mark": "line"}],
         "encoding": {"x": {"field": "t", "type": "quantitative", "scale": {"domain": [0, 12]}, "axis": {"title": null, "values": [0, 2, 4, 6, 8, 10, 12]}},
                      "y": {"field": "c", "type": "quantitative", "scale": {"domain": [0, 2500]}, "axis": {"title": null, "values": [0, 500, 1000, 1500, 2000, 2500]}},
                      "color": {"field": "s", "type": "nominal", "scale": {"domain": ["T", "R"], "range": ["#1f6fc6", "#f47b20"]}, "legend": {"title": null}}}},
        {"title": "5", "data": {"name": "p5"}, "layer": [{"transform": [{"filter": "datum.s == 'T'"}], "mark": "line"}, {"transform": [{"filter": "datum.s == 'R'"}], "mark": "line"}],
         "encoding": {"x": {"field": "t", "type": "quantitative", "scale": {"domain": [0, 12]}, "axis": {"title": null, "values": [0, 2, 4, 6, 8, 10, 12]}},
                      "y": {"field": "c", "type": "quantitative", "scale": {"domain": [0, 25000]}, "axis": {"title": null, "values": [0, 5000, 10000, 15000, 20000, 25000]}},
                      "color": {"field": "s", "type": "nominal", "scale": {"domain": ["T", "R"], "range": ["#1f6fc6", "#f47b20"]}, "legend": {"title": null}}}},
        {"title": "7", "data": {"name": "p7"}, "layer": [{"transform": [{"filter": "datum.s == 'T'"}], "mark": "line"}, {"transform": [{"filter": "datum.s == 'R'"}], "mark": "line"}],
         "encoding": {"x": {"field": "t", "type": "quantitative", "scale": {"domain": [0, 12]}, "axis": {"title": null, "values": [0, 2, 4, 6, 8, 10, 12]}},
                      "y": {"field": "c", "type": "quantitative", "scale": {"domain": [0, 20]}, "axis": {"title": null, "values": [0, 2, 4, 6, 8, 10, 12, 14, 16, 18, 20]}},
                      "color": {"field": "s", "type": "nominal", "scale": {"domain": ["T", "R"], "range": ["#1f6fc6", "#f47b20"]}, "legend": {"title": null}}}},
        {"title": "8", "data": {"name": "p8"}, "layer": [{"transform": [{"filter": "datum.s == 'T'"}], "mark": "line"}, {"transform": [{"filter": "datum.s == 'R'"}], "mark": "line"}],
         "encoding": {"x": {"field": "t", "type": "quantitative", "scale": {"domain": [0, 12]}, "axis": {"title": null, "values": [0, 2, 4, 6, 8, 10, 12]}},
                      "y": {"field": "c", "type": "quantitative", "scale": {"domain": [0, 45]}, "axis": {"title": null, "values": [0, 5, 10, 15, 20, 25, 30, 35, 40, 45]}},
                      "color": {"field": "s", "type": "nominal", "scale": {"domain": ["T", "R"], "range": ["#1f6fc6", "#f47b20"]}, "legend": {"title": null}}}},
        {"title": "9", "data": {"name": "p9"}, "layer": [{"transform": [{"filter": "datum.s == 'T'"}], "mark": "line"}, {"transform": [{"filter": "datum.s == 'R'"}], "mark": "line"}],
         "encoding": {"x": {"field": "t", "type": "quantitative", "scale": {"domain": [0, 12]}, "axis": {"title": null, "values": [0, 2, 4, 6, 8, 10, 12]}},
                      "y": {"field": "c", "type": "quantitative", "scale": {"domain": [0, 50]}, "axis": {"title": null, "values": [0, 5, 10, 15, 20, 25, 30, 35, 40, 45, 50]}},
                      "color": {"field": "s", "type": "nominal", "scale": {"domain": ["T", "R"], "range": ["#1f6fc6", "#f47b20"]}, "legend": {"title": null}}}},
        {"title": "10", "data": {"name": "p10"}, "layer": [{"transform": [{"filter": "datum.s == 'T'"}], "mark": "line"}, {"transform": [{"filter": "datum.s == 'R'"}], "mark": "line"}],
         "encoding": {"x": {"field": "t", "type": "quantitative", "scale": {"domain": [0, 12]}, "axis": {"title": null, "values": [0, 2, 4, 6, 8, 10, 12]}},
                      "y": {"field": "c", "type": "quantitative", "scale": {"domain": [0, 14]}, "axis": {"title": null, "values": [0, 2, 4, 6, 8, 10, 12, 14]}},
                      "color": {"field": "s", "type": "nominal", "scale": {"domain": ["T", "R"], "range": ["#1f6fc6", "#f47b20"]}, "legend": {"title": null}}}},
        {"title": "16", "data": {"name": "p16"}, "layer": [{"transform": [{"filter": "datum.s == 'T'"}], "mark": "line"}, {"transform": [{"filter": "datum.s == 'R'"}], "mark": "line"}],
         "encoding": {"x": {"field": "t", "type": "quantitative", "scale": {"domain": [0, 12]}, "axis": {"title": null, "values": [0, 2, 4, 6, 8, 10, 12]}},
                      "y": {"field": "c", "type": "quantitative", "scale": {"domain": [0, 300]}, "axis": {"title": null, "values": [0, 50, 100, 150, 200, 250, 300]}},
                      "color": {"field": "s", "type": "nominal", "scale": {"domain": ["T", "R"], "range": ["#1f6fc6", "#f47b20"]}, "legend": {"title": null}}}},
        {"title": "18", "data": {"name": "p18"}, "layer": [{"transform": [{"filter": "datum.s == 'T'"}], "mark": "line"}, {"transform": [{"filter": "datum.s == 'R'"}], "mark": "line"}],
         "encoding": {"x": {"field": "t", "type": "quantitative", "scale": {"domain": [0, 12]}, "axis": {"title": null, "values": [0, 2, 4, 6, 8, 10, 12]}},
                      "y": {"field": "c", "type": "quantitative", "scale": {"domain": [0, 400]}, "axis": {"title": null, "values": [0, 50, 100, 150, 200, 250, 300, 350, 400]}},
                      "color": {"field": "s", "type": "nominal", "scale": {"domain": ["T", "R"], "range": ["#1f6fc6", "#f47b20"]}, "legend": {"title": null}}}}
      ]
    }
  ],
  "spacing": 6,
  "config": {
    "font": "Lato",
    "numberFormat": "d",
    "view": {"continuousWidth": 155, "continuousHeight": 90, "stroke": null},
    "axis": {"grid": false, "domainColor": "#c0c0c0", "tickColor": "#c0c0c0", "labelColor": "#595959", "labelFontSize": 5, "labelPadding": 1, "tickSize": 2},
    "axisY": {"ticks": false, "labelPadding": 3},
    "line": {"strokeWidth": 2, "interpolate": "monotone"},
    "title": {"fontSize": 9, "fontWeight": "bold", "color": "#000000", "offset": -12},
    "style": {"coltitle": {"fontSize": 12, "fontWeight": 400, "fill": "#000000", "font": "Open Sans"}},
    "legend": {"orient": "none", "legendX": 140, "legendY": 709, "direction": "horizontal", "symbolType": "stroke", "symbolSize": 200, "symbolStrokeWidth": 2, "labelFontSize": 7, "labelColor": "#000000", "columnPadding": 6}
  }
}
